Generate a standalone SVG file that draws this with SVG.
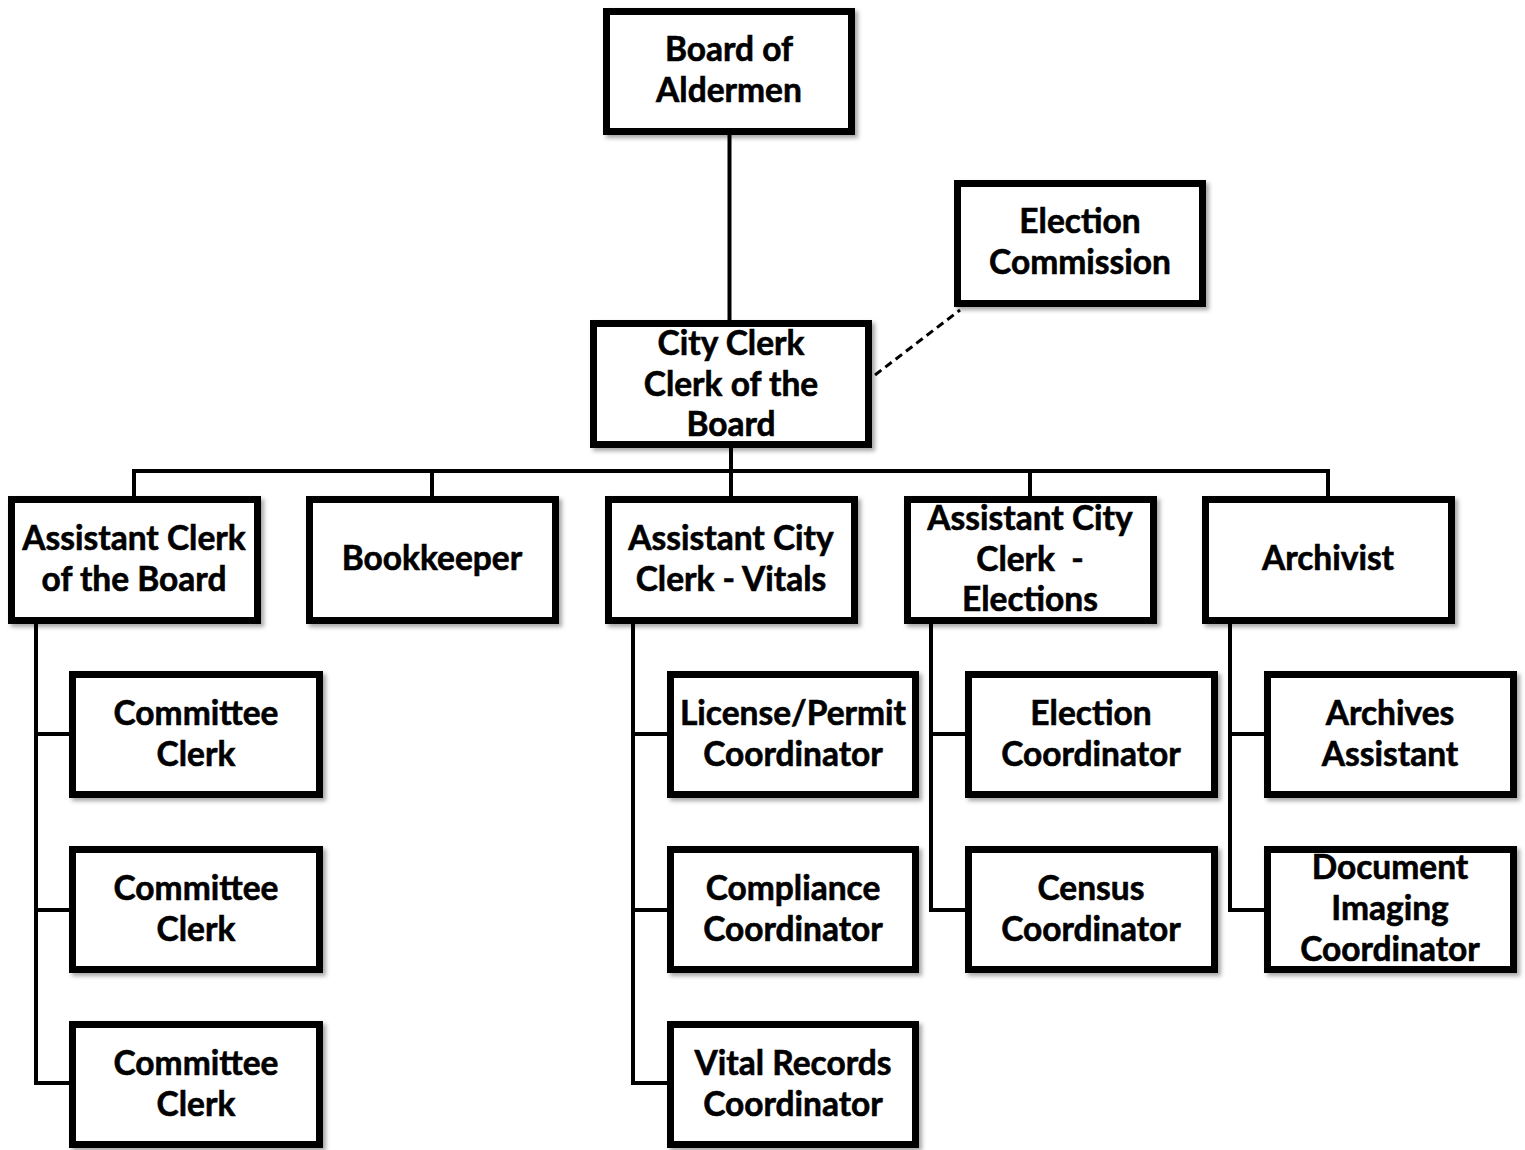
<svg xmlns="http://www.w3.org/2000/svg" width="1525" height="1150" viewBox="0 0 1525 1150">
<defs>
<filter id="sh" x="-10%" y="-10%" width="125%" height="125%">
<feDropShadow dx="3" dy="3" stdDeviation="2" flood-color="#000" flood-opacity="0.35"/>
</filter>
<style>
.box{fill:#fff;stroke:#000;stroke-width:7;filter:url(#sh)}
.t{font-family:Lato,"Open Sans","Liberation Sans",sans-serif;font-weight:bold;font-size:33.5px;text-anchor:middle;fill:#000;stroke:#000;stroke-width:0.6}
.c{fill:none;stroke:#000;stroke-width:4}
.d{fill:none;stroke:#000;stroke-width:3;stroke-dasharray:8,5}
</style>
</defs>
<rect width="1525" height="1150" fill="#fff"/>
<g id="connectors">
<path class="c" d="M729.5 135V320"/>
<path class="c" d="M134 496V471H1328V496M432 471V496M731 448V496M1030 471V496"/>
<path class="d" d="M875 375L960 310"/>
<path class="c" d="M36 624V1083H69M36 734H69M36 910H69"/>
<path class="c" d="M633 624V1083H667M633 734H667M633 910H667"/>
<path class="c" d="M931 624V910H965M931 734H965"/>
<path class="c" d="M1230 624V910H1264M1230 734H1264"/>
</g>
<g id="board"><rect class="box" x="606.5" y="11.5" width="245" height="120"/><text class="t" x="729" y="61">Board of</text><text class="t" x="729" y="102">Aldermen</text></g>
<g id="election-commission"><rect class="box" x="957.5" y="183.5" width="245" height="120"/><text class="t" x="1080" y="233">Election</text><text class="t" x="1080" y="274">Commission</text></g>
<g id="city-clerk"><rect class="box" x="593.5" y="323.5" width="275" height="121"/><text class="t" x="731" y="355">City Clerk</text><text class="t" x="731" y="396">Clerk of the</text><text class="t" x="731" y="436">Board</text></g>
<g id="asst-clerk-board"><rect class="box" x="11.5" y="499.5" width="246" height="121"/><text class="t" x="134" y="550">Assistant Clerk</text><text class="t" x="134" y="591">of the Board</text></g>
<g id="bookkeeper"><rect class="box" x="309.5" y="499.5" width="246" height="121"/><text class="t" x="432" y="570">Bookkeeper</text></g>
<g id="asst-vitals"><rect class="box" x="608.5" y="499.5" width="246" height="121"/><text class="t" x="731" y="550">Assistant City</text><text class="t" x="731" y="591">Clerk - Vitals</text></g>
<g id="asst-elections"><rect class="box" x="907.5" y="499.5" width="246" height="121"/><text class="t" x="1030" y="530">Assistant City</text><text class="t" x="1030" y="571" xml:space="preserve">Clerk  -</text><text class="t" x="1030" y="611">Elections</text></g>
<g id="archivist"><rect class="box" x="1205.5" y="499.5" width="246" height="121"/><text class="t" x="1328" y="570">Archivist</text></g>
<g id="committee-clerk-1"><rect class="box" x="72.5" y="674.5" width="247" height="120"/><text class="t" x="196" y="725">Committee</text><text class="t" x="196" y="766">Clerk</text></g>
<g id="committee-clerk-2"><rect class="box" x="72.5" y="849.5" width="247" height="120"/><text class="t" x="196" y="900">Committee</text><text class="t" x="196" y="941">Clerk</text></g>
<g id="committee-clerk-3"><rect class="box" x="72.5" y="1024.5" width="247" height="120"/><text class="t" x="196" y="1075">Committee</text><text class="t" x="196" y="1116">Clerk</text></g>
<g id="license"><rect class="box" x="670.5" y="674.5" width="245" height="120"/><text class="t" x="793" y="725">License/Permit</text><text class="t" x="793" y="766">Coordinator</text></g>
<g id="compliance"><rect class="box" x="670.5" y="849.5" width="245" height="120"/><text class="t" x="793" y="900">Compliance</text><text class="t" x="793" y="941">Coordinator</text></g>
<g id="vital-records"><rect class="box" x="670.5" y="1024.5" width="245" height="120"/><text class="t" x="793" y="1075">Vital Records</text><text class="t" x="793" y="1116">Coordinator</text></g>
<g id="election-coord"><rect class="box" x="968.5" y="674.5" width="246" height="120"/><text class="t" x="1091" y="725">Election</text><text class="t" x="1091" y="766">Coordinator</text></g>
<g id="census-coord"><rect class="box" x="968.5" y="849.5" width="246" height="120"/><text class="t" x="1091" y="900">Census</text><text class="t" x="1091" y="941">Coordinator</text></g>
<g id="archives-assistant"><rect class="box" x="1267.5" y="674.5" width="246" height="120"/><text class="t" x="1390" y="725">Archives</text><text class="t" x="1390" y="766">Assistant</text></g>
<g id="doc-imaging"><rect class="box" x="1267.5" y="849.5" width="246" height="120"/><text class="t" x="1390" y="879">Document</text><text class="t" x="1390" y="920">Imaging</text><text class="t" x="1390" y="961">Coordinator</text></g>
</svg>
